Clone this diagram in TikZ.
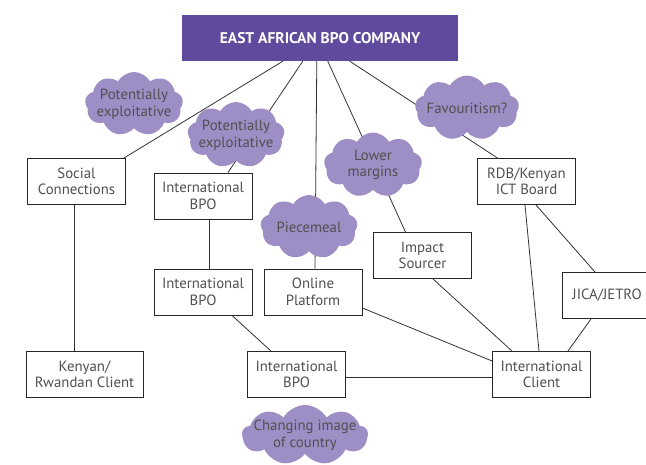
\documentclass[tikz,border=0pt]{standalone}
\usepackage{fontspec}
\setmainfont{PT Sans}
\usetikzlibrary{shapes.symbols}
\definecolor{titlepurple}{HTML}{5F4A9D}
\definecolor{cloudpurple}{HTML}{9D8EC6}
\definecolor{txtgray}{HTML}{505050}
\begin{document}
\begin{tikzpicture}[x=1pt,y=-1pt,
  every node/.style={font=\fontsize{14.8}{16.5}\selectfont},
  boxnode/.style={draw=black!85,line width=0.9pt,fill=white,minimum width=98pt,minimum height=46pt,inner sep=0pt,align=center,text=txtgray},
  cloudnode/.style={cloud,cloud puffs=9,cloud puff arc=120,cloud ignores aspect,fill=cloudpurple,draw=none,inner sep=0pt},
  cloudtext/.style={align=center,text=txtgray,inner sep=0pt},
  link/.style={draw=black!80,line width=0.8pt}]
\useasboundingbox (0,0) rectangle (646,464);
\node[fill=titlepurple,minimum width=276pt,minimum height=46pt,inner sep=0pt,text=white,font=\fontsize{15.5}{17}\selectfont\bfseries] (title) at (320,38) {EAST AFRICAN BPO COMPANY};
\node[boxnode] (soc) at (76.5,181.5) {Social\\Connections};
\node[boxnode] (bpoa) at (203,196) {International\\BPO};
\node[boxnode] (bpob) at (203,292) {International\\BPO};
\node[boxnode] (online) at (313,292) {Online\\Platform};
\node[boxnode] (impact) at (422.5,255.5) {Impact\\Sourcer};
\node[boxnode] (rdb) at (526.5,181.5) {RDB/Kenyan\\ICT Board};
\node[boxnode,minimum width=117pt] (ken) at (84.5,374.5) {Kenyan/\\Rwandan Client};
\node[boxnode] (bpoc) at (296.5,374.5) {International\\BPO};
\node[boxnode] (client) at (541.5,374.5) {International\\Client};
\node[boxnode,anchor=north west,text width=94pt,align=left] (jica) at (562,272) {\hspace*{8pt}JICA/JETRO};
% links
\draw[link] ([xshift=101pt]title.south west) -- ([xshift=-2pt]soc.north east);
\draw[link] ([xshift=121pt]title.south west) -- ([xshift=25pt]bpoa.north);
\draw[link] ([xshift=135pt]title.south west) -- ([xshift=2pt]online.north);
\draw[link] ([xshift=146pt]title.south west) -- ([xshift=-17pt]impact.north);
\draw[link] ([xshift=168pt]title.south west) -- ([xshift=-29pt]rdb.north);
\draw[link] ([xshift=-2.5pt]soc.south) -- ([xshift=-10.5pt]ken.north);
\draw[link] ([xshift=6pt]bpoa.south) -- ([xshift=6pt]bpob.north);
\draw[link] ([xshift=29pt]bpob.south) -- ([xshift=-25.5pt]bpoc.north);
\draw[link] ([yshift=-16pt]online.east) -- ([yshift=13.5pt]client.west);
\draw[link] ([xshift=10.5pt]impact.south) -- ([xshift=-29.5pt]client.north);
\draw[link] ([xshift=-1.5pt]rdb.south) -- ([xshift=-2.5pt]client.north);
\draw[link] ([xshift=9.5pt]rdb.south) -- ([xshift=33pt]jica.north west);
\draw[link] ([xshift=29pt]jica.south west) -- ([xshift=26.5pt]client.north);
\draw[link] ([yshift=-2.5pt]bpoc.east) -- ([yshift=-2.5pt]client.west);
% clouds
\node[cloudnode,minimum width=98pt,minimum height=64pt] (c1) at (134,104) {};
\node[cloudtext] (c1t) at (c1) {Potentially\\exploitative};
\node[cloudnode,minimum width=97pt,minimum height=66pt] (c2) at (236,135) {};
\node[cloudtext] (c2t) at (c2) {Potentially\\exploitative};
\node[cloudnode,minimum width=104pt,minimum height=65pt] (fav) at (467,108) {};
\node[cloudtext] (favt) at (fav) {Favouritism?};
\node[cloudnode,minimum width=98pt,minimum height=65pt] (lower) at (373,165) {};
\node[cloudtext] (lowert) at (lower) {Lower\\margins};
\node[cloudnode,minimum width=97pt,minimum height=64pt] (piece) at (309,227) {};
\node[cloudtext] (piecet) at (piece) {Piecemeal};
\node[cloudnode,minimum width=126pt,minimum height=60pt] (change) at (305,435) {};
\node[cloudtext] (changet) at (change) {Changing image\\of country};
\end{tikzpicture}
\end{document}
